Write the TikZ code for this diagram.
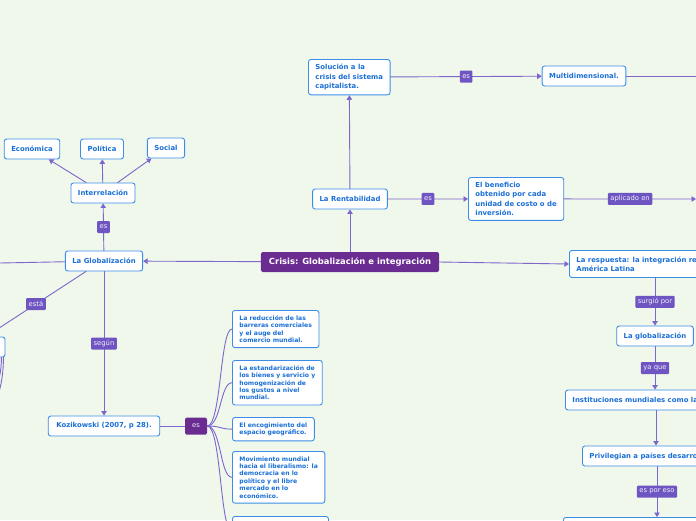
\documentclass[tikz,border=0pt]{standalone}
\usepackage{fontspec}
\setmainfont{DejaVu Sans}
\usetikzlibrary{arrows.meta}
\definecolor{bgmint}{HTML}{F0F8EC}
\definecolor{boxblue}{HTML}{3B8DE8}
\definecolor{txtblue}{HTML}{1A6FD6}
\definecolor{maincol}{HTML}{6B2C91}
\definecolor{lblcol}{HTML}{6F55C2}
\definecolor{linecol}{HTML}{7D66CC}
\begin{document}
\begin{tikzpicture}[x=1pt, y=-1pt, line join=round, line cap=round, >={Triangle[length=4.5pt,width=5.5pt]},
 topic/.style={draw=boxblue, line width=0.9pt, fill=white, rounded corners=2.5pt, text=txtblue,
   font=\bfseries\fontsize{6.9}{9.2}\selectfont, inner xsep=7pt, inner ysep=0pt, minimum height=20pt},
 leaf/.style={topic, font=\bfseries\fontsize{6.1}{7.4}\selectfont, align=left, inner ysep=5pt, anchor=north west},
 central/.style={fill=maincol, rounded corners=2pt, text=white, font=\bfseries\fontsize{8.4}{9}\selectfont,
   inner xsep=8pt, inner ysep=0pt, minimum height=20pt},
 lbl/.style={fill=lblcol, rounded corners=1pt, text=white!90!lblcol, font=\fontsize{6.8}{7}\selectfont,
   inner xsep=2.5pt, inner ysep=0pt, minimum height=12pt},
 link/.style={draw=linecol, line width=0.9pt}]
 \useasboundingbox (0,0) rectangle (696,520);
 \clip (0,0) rectangle (696,520);
 \fill[bgmint] (0,0) rectangle (696,520);
 % centre and upper branch
 \node[central] (crisis) at (350,262) {Crisis: Globalización e integración};
 \node[topic] (rent) at (350,199) {La Rentabilidad};
 \node[topic, align=left, anchor=north west, inner ysep=5pt] (sol) at (308,59) {Solución a la\\crisis del sistema\\capitalista.};
 \node[topic] (multi) at (584,76) {Multidimensional.};
 \node[topic, align=left, anchor=north west, inner ysep=5pt] (benef) at (468,177) {El beneficio\\obtenido por cada\\unidad de costo o de\\inversión.};
 \coordinate (multiend) at (700,76);
 \coordinate (aplic) at (696,199);
 \draw[link,->] (crisis) -- (rent);
 \draw[link,->] (rent) -- (sol);
 \draw[link,->] (sol) -- node[lbl]{es} (multi);
 \draw[link] (multi) -- (multiend);
 \draw[link,->] (rent) -- node[lbl]{es} (benef);
 \draw[link,->] (benef) -- node[lbl]{aplicado en} (aplic);
 % left branch
 \node[topic] (glob) at (104,261) {La Globalización};
 \node[topic] (inter) at (103,193) {Interrelación};
 \node[topic] (econ) at (32,149) {Económica};
 \node[topic] (poli) at (102,149) {Política};
 \node[topic] (soc) at (166,148) {Social};
 \coordinate (westend) at (0,263);
 \node[topic, minimum width=70pt] (izq) at (-30,347) {};
 \coordinate (izqsub) at (-20,430);
 \coordinate (izqsubb) at (-26,425);
 \draw[link,->] (crisis) -- (glob);
 \draw[link] (glob) -- (westend);
 \draw[link,->] (glob) -- node[lbl]{es} (inter);
 \foreach \area in {econ,poli,soc}
   \draw[link,->] (inter) -- (\area);
 \draw[link] ([xshift=-18pt]glob.south) -- node[lbl]{está} (izq);
 \draw[link] ([xshift=-2pt]izq.south east) .. controls +(0,30) and +(15,-20) .. (izqsub);
 \draw[link] ([xshift=-4pt]izq.south east) .. controls +(0,30) and +(15,-20) .. (izqsubb);
 % Kozikowski
 \node[topic, inner xsep=8pt] (kozi) at (104,426) {Kozikowski (2007, p 28).};
 \node[lbl, fill=maincol, rounded corners=1.5pt, minimum width=22pt, minimum height=17pt] (kes) at (196,426) {es};
 \draw[link,->] (glob) -- node[lbl]{según} (kozi);
 \draw[link] (kozi) -- (kes);
 \node[leaf] (red) at (232,310) {La reducción de las\\barreras comerciales\\y el auge del\\comercio mundial.};
 \node[leaf] (est) at (232,360) {La estandarización de\\los bienes y servicio y\\homogenización de\\los gustos a nivel\\mundial.};
 \node[leaf] (enc) at (232,417) {El encogimiento del\\espacio geográfico.};
 \node[leaf] (mov) at (232,451) {Movimiento mundial\\hacia el liberalismo: la\\democracia en lo\\político y el libre\\mercado en lo\\económico.};
 \node[leaf, minimum width=96pt, minimum height=30pt] (otro) at (232,516) {};
 \foreach \leafname in {red,est,enc,mov,otro}
   \draw[link] (kes.east) .. controls +(14,0) and +(-12,0) .. (\leafname.west);
 % right branch
 \node[topic, align=left, anchor=west, inner ysep=4pt, minimum height=27pt] (resp) at (569,264) {La respuesta: la integración regional en\\América Latina};
 \node[topic] (glob2) at (655,336) {La globalización};
 \node[topic, anchor=west] (inst) at (565,400) {Instituciones mundiales como la};
 \node[topic, anchor=west] (priv) at (582,456) {Privilegian a países desarrollados};
 \node[topic, anchor=north west, minimum width=150pt] (final) at (563,517) {};
 \draw[link,->] (crisis.east) -- (resp.west);
 \draw[link,->] (glob2 |- resp.south) -- node[lbl]{surgió por} (glob2.north);
 \draw[link,->] (glob2.south) -- node[lbl]{ya que} (glob2.south |- inst.north);
 \draw[link,->] ([xshift=1pt]glob2.south |- inst.south) -- ([xshift=1pt]glob2.south |- priv.north);
 \draw[link,->] ([xshift=2pt]glob2.south |- priv.south) -- node[lbl]{es por eso} ([xshift=2pt]glob2.south |- final.north);
\end{tikzpicture}
\end{document}
